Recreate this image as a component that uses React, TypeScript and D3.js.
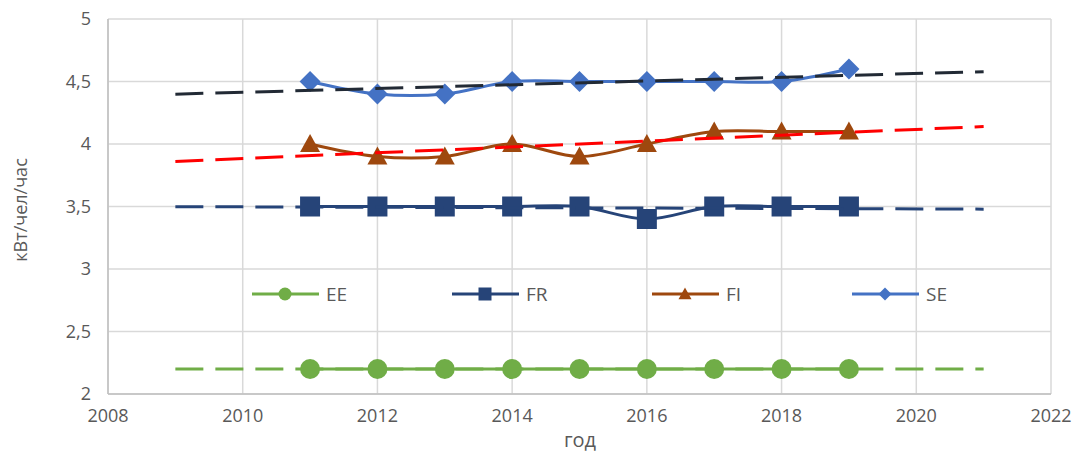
import React from 'react';
import * as d3 from 'd3';

const years = [2011, 2012, 2013, 2014, 2015, 2016, 2017, 2018, 2019];
const eeValues = [2.2, 2.2, 2.2, 2.2, 2.2, 2.2, 2.2, 2.2, 2.2];
const frValues = [3.5, 3.5, 3.5, 3.5, 3.5, 3.4, 3.5, 3.5, 3.5];
const fiValues = [4.0, 3.9, 3.9, 4.0, 3.9, 4.0, 4.1, 4.1, 4.1];
const seValues = [4.5, 4.4, 4.4, 4.5, 4.5, 4.5, 4.5, 4.5, 4.6];

const xTicks = [2008, 2010, 2012, 2014, 2016, 2018, 2020, 2022];
const yTicks = [2, 2.5, 3, 3.5, 4, 4.5, 5];
const trendRange = [2009, 2021];

const seriesNames = ['EE', 'FR', 'FI', 'SE'];

const width = 1078, height = 452;
const left = 108, right = 1051, top = 19, bottom = 394;

const fmt = (v: number) => String(v).replace('.', ',');

// least-squares linear trend (like Excel's trendline)
const trend = (xs: number[], ys: number[]) => {
    const mx = d3.mean(xs)!, my = d3.mean(ys)!;
    const sxy = d3.sum(xs, (x, i) => (x - mx) * (ys[i] - my));
    const sxx = d3.sum(xs, (x) => (x - mx) * (x - mx));
    const b = sxy / sxx;
    return (x: number) => my + b * (x - mx);
};

const Marker = ({ kind, x, y, size, color }: { kind: string, x: number, y: number, size: number, color: string }) => {
    const s = size / 2;
    if (kind === 'circle') return <circle cx={x} cy={y} r={s} fill={color} />;
    if (kind === 'square') return <rect x={x - s} y={y - s} width={size} height={size} fill={color} />;
    if (kind === 'triangle') return <path d={`M${x},${y - s}L${x + s},${y + s * 0.8}L${x - s},${y + s * 0.8}Z`} fill={color} />;
    return <path d={`M${x},${y - s}L${x + s},${y}L${x},${y + s}L${x - s},${y}Z`} fill={color} />;
};

export default function App() {
    const xScale = d3.scaleLinear().domain([2008, 2022]).range([left, right]);
    const yScale = d3.scaleLinear().domain([2, 5]).range([bottom, top]);

    const series = [
        { name: seriesNames[0], values: eeValues, color: '#70AD47', trendColor: '#70AD47', marker: 'circle', size: 20, legendSize: 13 },
        { name: seriesNames[1], values: frValues, color: '#264478', trendColor: '#264478', marker: 'square', size: 20, legendSize: 13 },
        { name: seriesNames[2], values: fiValues, color: '#9E480E', trendColor: '#FF0000', marker: 'triangle', size: 20, legendSize: 13 },
        { name: seriesNames[3], values: seValues, color: '#4472C4', trendColor: '#222A35', marker: 'diamond', size: 21, legendSize: 13 },
    ];

    const line = d3.line<[number, number]>()
        .x(d => xScale(d[0]))
        .y(d => yScale(d[1]))
        .curve(d3.curveCatmullRom.alpha(0.5));

    const font = "'Open Sans', 'Liberation Sans', sans-serif";

    return (
        <svg width={width} height={height} style={{ position: 'absolute', left: 0, top: 0, background: '#fff' }}>
            {/* grid */}
            {yTicks.map(t => (
                <line key={'gy' + t} x1={left} x2={right} y1={yScale(t)} y2={yScale(t)} stroke='#D9D9D9' strokeWidth={1.5} />
            ))}
            {xTicks.map(t => (
                <line key={'gx' + t} x1={xScale(t)} x2={xScale(t)} y1={top} y2={bottom} stroke='#D9D9D9' strokeWidth={1.5} />
            ))}
            <line x1={left} x2={left} y1={top} y2={bottom} stroke='#BFBFBF' strokeWidth={1.5} />
            <line x1={left} x2={right} y1={bottom} y2={bottom} stroke='#BFBFBF' strokeWidth={1.5} />

            {/* tick labels */}
            {yTicks.map(t => (
                <text key={'ty' + t} x={91} y={yScale(t) + 6} textAnchor='end' fontSize={18} fill='#595959' fontFamily={font}>{fmt(t)}</text>
            ))}
            {xTicks.map(t => (
                <text key={'tx' + t} x={xScale(t)} y={422} textAnchor='middle' fontSize={18} fill='#595959' fontFamily={font}>{t}</text>
            ))}
            <text transform='translate(27,210) rotate(-90)' textAnchor='middle' fontSize={18} fill='#595959' fontFamily={font}>кВт/чел/час</text>
            <text x={580} y={447} textAnchor='middle' fontSize={20} fill='#595959' fontFamily={font}>год</text>

            {/* series */}
            {series.map(s => {
                const pts = years.map((y, i) => [y, s.values[i]] as [number, number]);
                return (
                    <g key={s.name}>
                        <path d={line(pts) || ''} fill='none' stroke={s.color} strokeWidth={3} />
                        {pts.map((p, i) => (
                            <Marker key={i} kind={s.marker} x={xScale(p[0])} y={yScale(p[1])} size={s.size} color={s.color} />
                        ))}
                    </g>
                );
            })}

            {/* trendlines */}
            {series.map(s => {
                const f = trend(years, s.values);
                return (
                    <line key={'tr' + s.name}
                        x1={xScale(trendRange[0])} y1={yScale(f(trendRange[0]))}
                        x2={xScale(trendRange[1])} y2={yScale(f(trendRange[1]))}
                        stroke={s.trendColor} strokeWidth={3} strokeDasharray='28 12' />
                );
            })}

            {/* legend */}
            {series.map((s, i) => {
                const lx = 252 + i * 200, ly = 294;
                return (
                    <g key={'lg' + s.name}>
                        <line x1={lx} x2={lx + 67} y1={ly} y2={ly} stroke={s.color} strokeWidth={3} />
                        <Marker kind={s.marker} x={lx + 33} y={ly} size={s.legendSize} color={s.color} />
                        <text x={lx + 74} y={ly + 7} fontSize={19} fill='#595959' fontFamily={font}>{s.name}</text>
                    </g>
                );
            })}
        </svg>
    );
}
